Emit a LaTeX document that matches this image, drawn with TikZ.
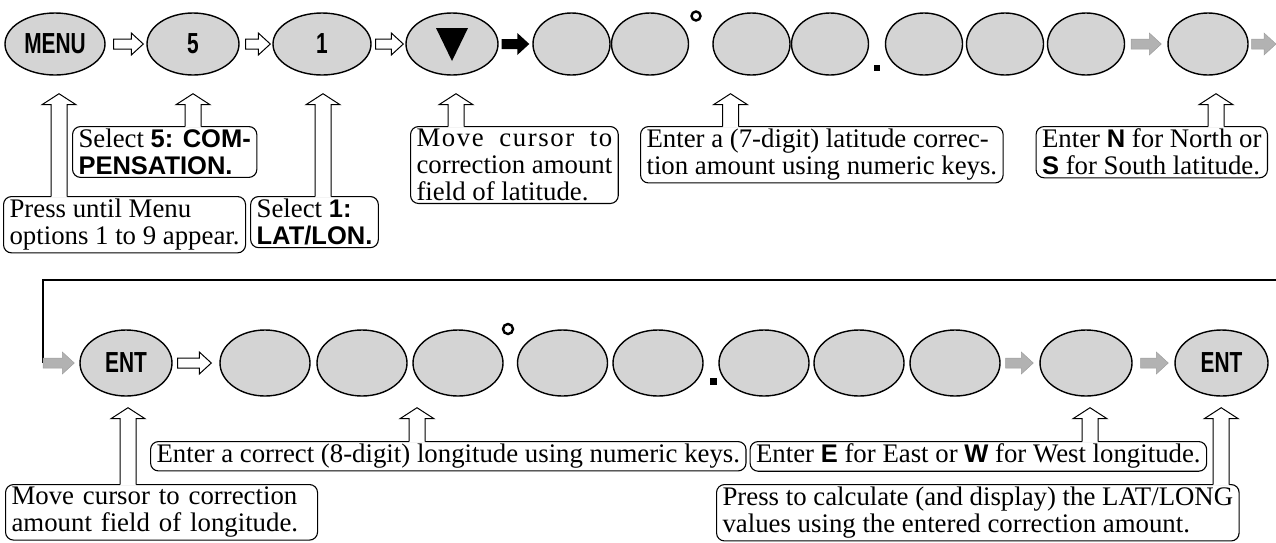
\documentclass[tikz,border=0pt]{standalone}
\usepackage{fontspec}
\setmainfont{Liberation Serif}
\setsansfont{Liberation Sans}
\usetikzlibrary{shapes.geometric,calc}
\newcommand\hb[1]{{\fontsize{25.5}{27}\selectfont\sffamily\bfseries #1}}
\newcommand\keylbl[1]{\scalebox{0.72}[1]{\fontsize{29}{29}\selectfont\sffamily\bfseries #1}}
% horizontal block arrow: style, from, to, gap at start, gap at end
\newcommand\blockarr[5]{%
  \path[#1] ($(#2)+(#4,-5)$) -- ($(#3)+(-#5-12,-5)$) -- ($(#3)+(-#5-12,-11)$) -- ($(#3)+(-#5,0)$)
    -- ($(#3)+(-#5-12,11)$) -- ($(#3)+(-#5-12,5)$) -- ($(#2)+(#4,5)$) -- cycle;}
% hollow up arrow: bottom point (on box top), tip point
\newcommand\uparr[2]{%
  \fill[white] ($(#1)+(-8,1.6)$) -- ($(#2)+(-8,11)$) -- ($(#2)+(-17,11)$) -- (#2) -- ($(#2)+(17,11)$) -- ($(#2)+(8,11)$) -- ($(#1)+(8,1.6)$) -- cycle;
  \draw[upa] ($(#1)+(-8,0.6)$) -- ($(#2)+(-8,11)$) -- ($(#2)+(-17,11)$) -- (#2) -- ($(#2)+(17,11)$) -- ($(#2)+(8,11)$) -- ($(#1)+(8,0.6)$);}
\newcommand\ls{\kern1.6pt}
\begin{document}
\begin{tikzpicture}[x=1pt,y=-1pt,
  keyell/.style={ellipse,draw,line width=1.4pt,fill=black!17,inner sep=0pt,minimum width=#1,minimum height=62pt},
  lowell/.style={keyell=#1,minimum height=66pt},
  harr/.style={draw,line width=1pt,fill=white},
  barr/.style={fill=black},
  darr/.style={fill=black!30,draw=black!38,line width=0.5pt},
  note/.style={draw,rounded corners=8pt,line width=1.1pt,inner xsep=6pt,inner ysep=2.5pt,align=left,font=\fontsize{26.8}{27}\selectfont},
  upa/.style={line width=1pt,line join=miter},
  rulel/.style={line width=1.1pt}]
\useasboundingbox (0,0) rectangle (1276,542);

% ---------- top row ----------
\node[keyell=100pt] (menu) at (55,44) {\keylbl{MENU}};
\node[keyell=92pt] (five) at (193,44) {\keylbl{5}};
\node[keyell=98pt] (one) at (322,44) {\keylbl{1}};
\node[keyell=92pt] (tri) at (452,44) {};
\fill ($(tri)+(-16,-16)$) -- ($(tri)+(16,-16)$) -- ($(tri)+(0,17)$) -- cycle;
\foreach \n/\x in {la1/571.5,la2/650,la3/751.5,la4/830,la5/924,la6/1005,la7/1086}
  \node[keyell=77pt] (\n) at (\x,44) {};
\node[keyell=80pt] (ns) at (1208,44) {};
\coordinate (topR) at (1276,44);

\blockarr{harr}{menu.east}{five.west}{8}{3}
\blockarr{harr}{five.east}{one.west}{6}{2}
\blockarr{harr}{one.east}{tri.west}{4}{2}
\blockarr{barr}{tri.east}{la1.west}{3}{3}
\blockarr{darr}{la7.east}{ns.west}{6}{6}
\blockarr{darr}{ns.east}{topR}{3}{0}

\draw[line width=2.4pt] (696,16) circle[radius=4.5pt];
\fill (874,65) rectangle (880,71);

% ---------- top notes ----------
\node[note,anchor=north west] (sel5) at (72,126) {Select \hb{5: COM-}\\\hb{PENSATION.}};
\node[note,anchor=north west] (press) at (3,196) {Press until Menu\\options 1 to 9 appear.};
\node[note,anchor=north west] (sel1) at ($(press.north east)+(4,0)$) {Select \hb{1:}\\\hb{LAT/LON.}};
\node[note,anchor=north west] (movelat) at (410,126) {{\setbox0\hbox{correction amount}\hbox to\wd0{M\ls o\ls v\ls e\hfill c\ls u\ls r\ls s\ls o\ls r\hfill t\ls o}}\\correction amount\\field of latitude.};
\node[note,anchor=north west] (ent7) at (640,126) {Enter a (7-digit) latitude correc-\\tion amount using numeric keys.};
\node[note,anchor=north east] (entn) at (1268,126) {Enter \hb{N} for North or\\\hb{S} for South latitude.};

\coordinate (t1) at ($(menu.south)+(4,18)$);
\coordinate (t2) at ($(five.south)+(0,18)$);
\coordinate (t3) at ($(one.south)+(1,18)$);
\coordinate (t4) at ($(tri.south)+(4,18)$);
\coordinate (t5) at ($(la3.south)+(-21,18)$);
\coordinate (t6) at ($(ns.south)+(8,18)$);
\uparr{t1 |- press.north}{t1}
\uparr{t2 |- sel5.north}{t2}
\uparr{t3 |- sel1.north}{t3}
\uparr{t4 |- movelat.north}{t4}
\uparr{t5 |- ent7.north}{t5}
\uparr{t6 |- entn.north}{t6}

% ---------- loop ----------
\node[lowell=92pt] (ent1) at (126,363) {\keylbl{ENT}};
\coordinate (loopR) at (1276,280);
\coordinate (loopL) at (43,280);
\coordinate (loopB) at (loopL |- ent1.west);
\draw[rulel] (loopR) -- (loopL) -- (loopB);
\blockarr{darr}{loopB}{ent1.west}{0}{5}

% ---------- bottom row ----------
\foreach \n/\x in {lo1/265,lo2/362,lo3/458,lo4/562.5,lo5/658,lo6/764,lo7/859,lo8/955}
  \node[lowell=90pt] (\n) at (\x,363) {};
\node[lowell=92pt] (ew) at (1086,363) {};
\node[lowell=93pt] (ent2) at (1221.5,363) {\keylbl{ENT}};

\blockarr{harr}{ent1.east}{lo1.west}{5}{8}
\blockarr{darr}{lo8.east}{ew.west}{5}{6}
\blockarr{darr}{ew.east}{ent2.west}{8}{6}

\draw[line width=2.4pt] (508,329) circle[radius=5pt];
\fill (710,378) rectangle (716.5,384.5);

% ---------- bottom notes ----------
\node[note,anchor=north west] (ent8) at (150,441) {Enter a correct (8-digit) longitude using numeric keys.};
\node[note,anchor=north west] (entew) at ($(ent8.north east)+(3,0)$) {Enter \hb{E} for East or \hb{W} for West longitude.};
\node[note,anchor=north west,text width=300pt] (movelon) at (5,484) {Move cursor to correction\\amount field of longitude.};
\node[note,anchor=north west] (calc) at (716,484) {Press to calculate (and display) the LAT/LONG\\values using the entered correction amount.};

\coordinate (u1) at ($(ent1.south)+(2,11)$);
\coordinate (u2) at ($(lo3.south)+(-41,11)$);
\coordinate (u3) at ($(ew.south)+(4,11)$);
\coordinate (u4) at ($(entew.east |- ent2.south)+(14,11)$);
\uparr{u1 |- movelon.north}{u1}
\uparr{u2 |- ent8.north}{u2}
\uparr{u3 |- entew.north}{u3}
\uparr{u4 |- calc.north}{u4}
\end{tikzpicture}
\end{document}
